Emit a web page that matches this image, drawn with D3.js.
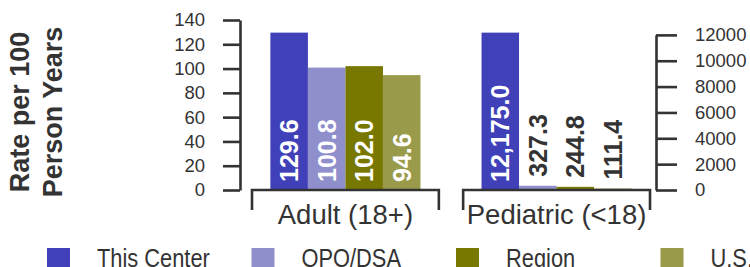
<!DOCTYPE html>
<html>
<head>
<meta charset="utf-8">
<script src="https://cdn.jsdelivr.net/npm/d3@7"></script>
<style>
  body { margin: 0; background: #fff; }
  text { font-family: "Liberation Sans", Arial, sans-serif; }
</style>
</head>
<body>
<script>
var categories = ["Adult (18+)", "Pediatric (<18)"];
var series = ["This Center", "OPO/DSA", "Region", "U.S."];
var adultValues = [129.6, 100.8, 102.0, 94.6];
var pediatricValues = [12175.0, 327.3, 244.8, 111.4];
var leftTicks = [0, 20, 40, 60, 80, 100, 120, 140];
var rightTicks = [0, 2000, 4000, 6000, 8000, 10000, 12000];
var colors = ["#4040b8", "#8f8fcc", "#787800", "#9a9a4b"];
var ink = "#333";

var w = 750, h = 267;

var svg = d3.select("body").append("svg")
    .attr("width", w)
    .attr("height", h);

// left scale for adults, right scale for pediatric; both tallest bars reach the same height
var yLeft = d3.scaleLinear().domain([0, 140]).range([190, 20]);
var yRight = d3.scaleLinear()
    .domain([0, 140 * pediatricValues[0] / adultValues[0]])
    .range([190, 20]);
var scales = [yLeft, yRight];
var groups = [adultValues, pediatricValues];

var xGroup = d3.scaleBand().domain(categories).range([252, 650])
    .paddingInner(0.115).paddingOuter(0);
var xSeries = d3.scaleBand().domain(series).range([0, xGroup.bandwidth()])
    .paddingInner(0).paddingOuter(0.49);

// left axis
var gl = svg.append("g")
    .attr("transform", "translate(240,0)")
    .call(d3.axisLeft(yLeft).tickValues(leftTicks).tickSize(17).tickSizeOuter(0).tickPadding(18));

// right axis, line only as far as the last tick
var rightAxisScale = d3.scaleLinear().domain([0, 12000]).range([yRight(0), yRight(12000)]);
var gr = svg.append("g")
    .attr("transform", "translate(656,0)")
    .call(d3.axisRight(rightAxisScale).tickValues(rightTicks).tickFormat(d3.format("d"))
        .tickSize(21).tickSizeOuter(0).tickPadding(18));

[gl, gr].forEach(function(g) {
    g.attr("color", ink);
    g.selectAll("path, line").style("stroke-width", "2.6px");
    g.selectAll("text")
        .style("font-size", "18.5px")
        .style("font-family", "'Liberation Sans', Arial, sans-serif")
        .style("fill", ink);
});

var fmt = d3.format(",.1f");

var cat = svg.selectAll("g.cat").data(categories).enter().append("g")
    .attr("class", "cat")
    .attr("transform", function(d) { return "translate(" + xGroup(d) + ",0)"; });

cat.each(function(c, gi) {
    var g = d3.select(this);
    var y = scales[gi];
    var vals = groups[gi];

    g.selectAll("rect").data(vals).enter().append("rect")
        .attr("x", function(d, i) { return xSeries(series[i]); })
        .attr("y", function(d) { return y(d); })
        .attr("width", xSeries.bandwidth())
        .attr("height", function(d) { return y(0) - y(d); })
        .style("fill", function(d, i) { return colors[i]; });

    g.selectAll("text.val").data(vals).enter().append("text")
        .attr("class", "val")
        .each(function(d, i) {
            var inside = (y(0) - y(d)) > 90;
            var ty = inside ? y(0) - 8 : y(d) - 9;
            var tx = xSeries(series[i]) + xSeries.bandwidth() / 2;
            d3.select(this)
                .attr("transform", "translate(" + tx + "," + ty + ") rotate(-90)")
                .attr("dy", "0.36em")
                .style("fill", inside ? "#fff" : ink);
        })
        .text(function(d) { return fmt(d); })
        .style("font-size", "25px")
        .style("font-weight", "bold");

    // bracket under each group
    var bw = xGroup.bandwidth();
    g.append("path")
        .attr("d", "M0,210V190H" + bw + "V210")
        .style("fill", "none")
        .style("stroke", ink)
        .style("stroke-width", "2.6px");

    g.append("text")
        .text(c)
        .attr("x", bw / 2)
        .attr("y", 224)
        .attr("text-anchor", "middle")
        .style("font-size", "27.5px")
        .style("fill", ink);
});

// y title
var yt = svg.append("text")
    .attr("transform", "translate(29,112) rotate(-90)")
    .attr("text-anchor", "middle")
    .style("font-size", "27px")
    .style("font-weight", "bold")
    .style("fill", ink);
yt.append("tspan").attr("x", 0).text("Rate per 100");
yt.append("tspan").attr("x", 0).attr("dy", 33).text("Person Years");

// legend
var leg = svg.selectAll("g.leg").data(series).enter().append("g")
    .attr("class", "leg")
    .attr("transform", function(d, i) { return "translate(" + (47 + i * 204.5) + ",248)"; });

leg.append("rect")
    .attr("width", 23)
    .attr("height", 23)
    .style("fill", function(d, i) { return colors[i]; });

// condensed look of the legend labels
leg.append("text")
    .attr("transform", "translate(50,19) scale(0.84,1)")
    .text(function(d) { return d; })
    .style("font-size", "26px")
    .style("fill", ink);
</script>
</body>
</html>
